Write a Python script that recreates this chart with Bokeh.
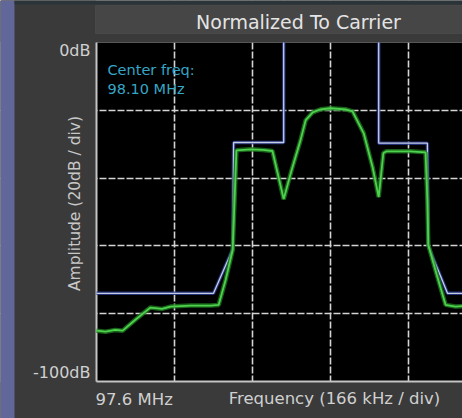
import math
from bokeh.plotting import figure
from bokeh.models import Label, FixedTicker, Range1d, Grid, BoxAnnotation
from bokeh.embed import file_html
from bokeh.resources import INLINE

# ---------------- data ----------------
start_mhz = 97.6
div_mhz = 1.0 / 6.0          # 166 kHz / div
db_top, db_bottom = 0.0, -100.0

y_grid_db = [-20, -40, -60, -80]
x_grid_mhz = [97.7667, 97.9333, 98.1000, 98.2667, 98.4333]

NaN = float("nan")
mask_freq = [97.600, 97.850, 97.891, 97.893, 98.000, 98.000, NaN,
             98.203, 98.203, 98.307, 98.309, 98.350, 98.45]
mask_db = [-74.0, -74.0, -61.0, -29.5, -29.5, 0.0, NaN,
           0.0, -29.7, -29.7, -60.0, -74.0, -74.0]

green_freq = [97.600, 97.619, 97.640, 97.656, 97.683, 97.715, 97.740, 97.758,
              97.801, 97.844, 97.861, 97.876, 97.891, 97.895, 97.899, 97.929,
              97.955, 97.976, 98.000, 98.017, 98.036, 98.047, 98.062, 98.079,
              98.100, 98.132, 98.147, 98.171, 98.190, 98.203, 98.213, 98.220,
              98.271, 98.303, 98.307, 98.309, 98.327, 98.346, 98.367, 98.40]
green_db = [-85.0, -85.3, -84.8, -85.0, -81.8, -78.2, -78.6, -77.9,
            -77.6, -77.6, -77.4, -70.0, -61.2, -46.5, -31.8, -31.5,
            -31.7, -32.0, -46.2, -37.6, -28.8, -22.9, -20.6, -19.7,
            -19.4, -19.7, -20.3, -26.8, -36.8, -45.6, -32.6, -32.1,
            -32.1, -32.4, -46.5, -59.7, -68.5, -77.4, -77.9, -77.6]

title_text = "Normalized To Carrier"
y_title = "Amplitude (20dB / div)"
x_title = "Frequency (166 kHz / div)"
y_tick_labels = ["0dB", "-100dB"]
x_start_label = "97.6 MHz"
info_lines = ["Center freq:", "98.10 MHz"]

# ---------------- layout (page pixels) ----------------
W, H = 462, 418
PLOT_L, PLOT_T, PLOT_B = 96, 42, 381
PX_PER_DIV = 78.0
PX_PER_DB = (PLOT_B - PLOT_T) / (db_top - db_bottom)
BG = "#3a3a3a"


def px_x(px):
    return start_mhz + (px - PLOT_L) / PX_PER_DIV * div_mhz


def px_y(py):
    return db_top - (py - PLOT_T) / PX_PER_DB


x_end = px_x(W)

p = figure(width=W, height=H, x_range=Range1d(px_x(0), px_x(W)),
           y_range=Range1d(px_y(H), px_y(0)),
           output_backend="svg", toolbar_location=None,
           x_axis_location=None, y_axis_location=None,
           min_border=0, min_border_left=0, min_border_right=0,
           min_border_top=0, min_border_bottom=0,
           background_fill_color=BG, border_fill_color=BG,
           outline_line_color=None)


def box(**kw):
    kw.setdefault("fill_alpha", 1)
    kw.setdefault("line_color", None)
    p.add_layout(BoxAnnotation(level="underlay", **kw))


# black plot area
box(left=start_mhz, right=x_end, bottom=db_bottom, top=db_top, fill_color="black")

# dashed grid
gkw = dict(grid_line_color="#d4d4d4", grid_line_width=1.6,
           grid_line_dash="7 2", grid_line_alpha=1.0)
p.add_layout(Grid(dimension=0, ticker=FixedTicker(ticks=x_grid_mhz), **gkw))
p.add_layout(Grid(dimension=1, ticker=FixedTicker(ticks=y_grid_db), **gkw))

# margins around the plot area (keep the grid inside it)
box(right=start_mhz, fill_color=BG)
box(bottom=db_top, fill_color=BG)
box(top=db_bottom, fill_color=BG)

# window decorations
box(right=px_x(14), fill_color="#62679a")
box(bottom=px_y(4), left=px_x(14), fill_color="#2b3438")
# title band
box(left=px_x(95), top=px_y(5), bottom=px_y(33), fill_color="#464646",
    line_color="#5c5c5c", line_width=1)

# axis lines (left and bottom of the plot area)
p.segment(x0=[start_mhz, start_mhz], y0=[db_bottom, db_bottom],
          x1=[start_mhz, x_end], y1=[db_top, db_bottom],
          line_color="#c4c4c4", line_width=2)

# mask line with bluish halo
p.line(mask_freq, mask_db, line_color="#2c3c96", line_width=3.5, line_alpha=0.8)
p.line(mask_freq, mask_db, line_color="#c4cce4", line_width=1.3)
# measured trace with green glow
p.line(green_freq, green_db, line_color="#1f7a1f", line_width=4.5, line_alpha=0.8)
p.line(green_freq, green_db, line_color="#4ed24e", line_width=1.8)

FONT = "DejaVu Sans"


def add_label(text, px, py, size, color="#d0d0d0", align="left", angle=0.0):
    p.add_layout(Label(x=px_x(px), y=px_y(py), text=text, text_font=FONT,
                       text_font_size=size, text_color=color, text_align=align,
                       text_baseline="middle", angle=angle))


add_label(title_text, 298, 21, "19px", color="#e4e4e4", align="center")
add_label(y_tick_labels[0], 90, 50, "16px", align="right")
add_label(y_tick_labels[1], 90, 372, "16px", align="right")
add_label(y_title, 74, 203, "15.5px", color="#c8c8c8", align="center",
          angle=math.pi / 2)
add_label(x_start_label, 95, 399, "16.5px")
add_label(x_title, 334, 398, "16.5px", align="center")
add_label(info_lines[0], 107, 69, "14.5px", color="#36a6c6")
add_label(info_lines[1], 107, 88, "14.5px", color="#36a6c6")

open("out.html", "w").write(file_html(p, INLINE))
